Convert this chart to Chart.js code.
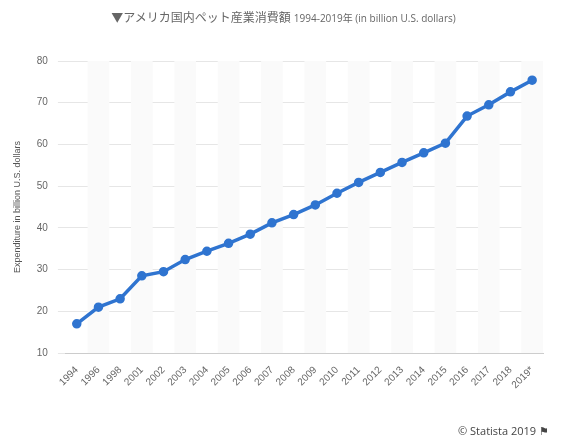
<!DOCTYPE html>
<html>
<head>
<meta charset="utf-8">
<script src="https://cdn.jsdelivr.net/npm/chart.js@4"></script>
<style>
  body { margin: 0; background: #fff; font-family: "Open Sans", "Noto Sans CJK JP", sans-serif; }
  #wrap { position: relative; width: 567px; height: 448px; }
  #title { position: absolute; top: 8px; width: 100%; text-align: center; font-size: 12px; color: #666; }
  #title small { font-size: 10px; }
  #credit { position: absolute; right: 18px; bottom: 10px; font-size: 11px; color: #444; }
  canvas { position: absolute; left: 0; top: 0; }
</style>
</head>
<body>
<div id="wrap">
  <canvas id="chart" width="567" height="448"></canvas>
  <div id="title">▼アメリカ国内ペット産業消費額 <small>1994-2019年 (in billion U.S. dollars)</small></div>
  <div id="credit">© Statista 2019 ⚑</div>
</div>
<script>
const years = ["1994", "1996", "1998", "2001", "2002", "2003", "2004", "2005", "2006", "2007", "2008",
    "2009", "2010", "2011", "2012", "2013", "2014", "2015", "2016", "2017", "2018", "2019*"];
const spending = [17, 21, 23, 28.5, 29.5, 32.4, 34.4, 36.3, 38.5, 41.2, 43.2,
    45.5, 48.3, 50.9, 53.3, 55.7, 58.0, 60.3, 66.8, 69.5, 72.6, 75.4];

// shaded bands behind every other category
const bands = {
    id: 'bands',
    beforeDatasetsDraw(chart) {
        const { ctx, chartArea, scales: { x } } = chart;
        const w = x.width / years.length;
        ctx.save();
        ctx.fillStyle = '#fafafa';
        years.forEach((_, i) => {
            if (i % 2 === 1) {
                ctx.fillRect(x.getPixelForValue(i) - w / 2, chartArea.top, w, chartArea.bottom - chartArea.top);
            }
        });
        ctx.restore();
    }
};

new Chart(document.getElementById("chart"), {
    type: 'line',
    data: {
        labels: years,
        datasets: [{
            data: spending,
            borderColor: '#2f74d0',
            backgroundColor: '#2f74d0',
            borderWidth: 3.5,
            pointRadius: 3,
            tension: 0
        }]
    },
    options: {
        responsive: false,
        animation: false,
        layout: { padding: { top: 61, right: 24, bottom: 54, left: 8 } },
        plugins: { legend: { display: false }, tooltip: { enabled: false } },
        scales: {
            x: {
                offset: true,
                grid: { display: false },
                border: { color: '#ccc' },
                ticks: { color: '#666', font: { size: 10 }, maxRotation: 45, minRotation: 45, autoSkip: false }
            },
            y: {
                min: 10,
                max: 80,
                ticks: { stepSize: 10, color: '#666', font: { size: 10 }, padding: 10 },
                grid: { color: '#e6e6e6' },
                border: { display: false },
                title: { display: true, text: 'Expenditure in billion U.S. dollars', color: '#555', font: { size: 9 } }
            }
        }
    },
    plugins: [bands]
});
</script>
</body>
</html>
